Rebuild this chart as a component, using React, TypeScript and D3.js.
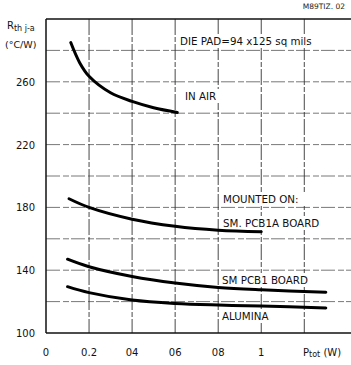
import React from "react";
import * as d3 from "d3";

const W = 351;
const H = 365;

const xTickValues = [0, 0.2, 0.4, 0.6, 0.8, 1];
const xTickLabels = ["0", "0.2", "04", "06", "08", "1"];
const yTickValues = [100, 140, 180, 220, 260];
const yGridValues = [120, 140, 160, 180, 200, 220, 240, 260, 280];
const xGridValues = [0.2, 0.4, 0.6, 0.8, 1.0, 1.2];

const inAirX = [0.115, 0.157, 0.2, 0.3, 0.4, 0.5, 0.61];
const inAirY = [285, 272, 263.5, 253, 247.5, 243.5, 240.5];
const pcb1aX = [0.107, 0.2, 0.4, 0.6, 0.8, 1.0];
const pcb1aY = [185.5, 180, 172.5, 168, 165.5, 164.5];
const pcb1X = [0.1, 0.2, 0.4, 0.6, 0.8, 1.0, 1.3];
const pcb1Y = [147, 142.2, 136, 131.8, 129, 127.5, 126];
const aluminaX = [0.1, 0.2, 0.4, 0.6, 0.8, 1.0, 1.3];
const aluminaY = [129.5, 125.7, 121, 118.8, 117.8, 117.2, 116];

const FONT = "'DejaVu Sans', sans-serif";

export default function App() {
  const x = d3.scaleLinear().domain([0, 1.417]).range([46, 351]);
  const y = d3.scaleLinear().domain([100, 300]).range([333, 19]);

  const line = d3
    .line<[number, number]>()
    .x((d) => x(d[0]))
    .y((d) => y(d[1]))
    .curve(d3.curveCatmullRom.alpha(0.5));

  const series = [
    { xs: inAirX, ys: inAirY },
    { xs: pcb1aX, ys: pcb1aY },
    { xs: pcb1X, ys: pcb1Y },
    { xs: aluminaX, ys: aluminaY },
  ];

  const labels = [
    { text: "DIE PAD=94 x125 sq mils", x: 180, y: 45, w: 138 },
    { text: "IN AIR", x: 185, y: 100, w: 32 },
    { text: "MOUNTED ON:", x: 223, y: 203, w: 80 },
    { text: "SM. PCB1A BOARD", x: 223, y: 227, w: 97 },
    { text: "SM PCB1 BOARD", x: 222, y: 284, w: 93 },
    { text: "ALUMINA", x: 222, y: 320, w: 50 },
  ];

  return (
    <svg
      width={W}
      height={H}
      style={{ position: "absolute", left: 0, top: 0, background: "#fff" }}
      fontFamily={FONT}
    >
      <rect x={0} y={0} width={W} height={H} fill="#fff" />
      {/* horizontal grid */}
      {yGridValues.map((v) => (
        <line
          key={"h" + v}
          x1={x(0)}
          x2={W}
          y1={y(v)}
          y2={y(v)}
          stroke="#555"
          strokeWidth={0.8}
          strokeDasharray="14 3 6 2"
        />
      ))}
      {/* vertical grid */}
      {xGridValues.map((v) => (
        <line
          key={"v" + v}
          x1={x(v)}
          x2={x(v)}
          y1={y(300)}
          y2={y(100)}
          stroke="#333"
          strokeWidth={0.9}
          strokeDasharray="16 2 5 2"
        />
      ))}
      {/* frame */}
      <line x1={x(0)} x2={W} y1={y(300)} y2={y(300)} stroke="#111" strokeWidth={1.3} />
      <line x1={x(0)} x2={x(0)} y1={y(300)} y2={y(100)} stroke="#111" strokeWidth={1.5} />
      <line x1={x(0)} x2={W} y1={y(100)} y2={y(100)} stroke="#111" strokeWidth={1.3} />

      {/* label backgrounds and text */}
      {labels.map((l) => (
        <g key={l.text}>
          <rect x={l.x - 3} y={l.y - 11} width={l.w + 6} height={14} fill="#fff" />
          <text x={l.x} y={l.y} fontSize={10.3} fill="#111">
            {l.text}
          </text>
        </g>
      ))}

      {/* curves */}
      {series.map((s, i) => (
        <path
          key={i}
          d={line(s.xs.map((xv, j) => [xv, s.ys[j]] as [number, number])) || ""}
          fill="none"
          stroke="#000"
          strokeWidth={3}
          strokeLinecap="round"
        />
      ))}

      {/* y ticks */}
      {yTickValues.map((v) => (
        <text
          key={"yt" + v}
          x={35}
          y={y(v) + 4}
          textAnchor="end"
          fontSize={10}
          fill="#111"
        >
          {v}
        </text>
      ))}
      {/* x ticks */}
      {xTickValues.map((v, i) => (
        <text
          key={"xt" + v}
          x={x(v)}
          y={356}
          textAnchor="middle"
          fontSize={10}
          fill="#111"
        >
          {xTickLabels[i]}
        </text>
      ))}
      <text x={303} y={356} fontSize={10} fill="#111">
        P
        <tspan fontSize={8} dy={1}>tot</tspan>
        <tspan dy={-1}> (W)</tspan>
      </text>

      {/* y-axis title */}
      <text x={7} y={29} fontSize={10} fill="#111">
        R
        <tspan fontSize={8} dy={2}>th j-a</tspan>
      </text>
      <text x={5} y={48} fontSize={9.5} fill="#111">
        (°C/W)
      </text>

      <text x={345} y={9} textAnchor="end" fontSize={7.5} fill="#222">
        M89TIZ. 02
      </text>
    </svg>
  );
}
